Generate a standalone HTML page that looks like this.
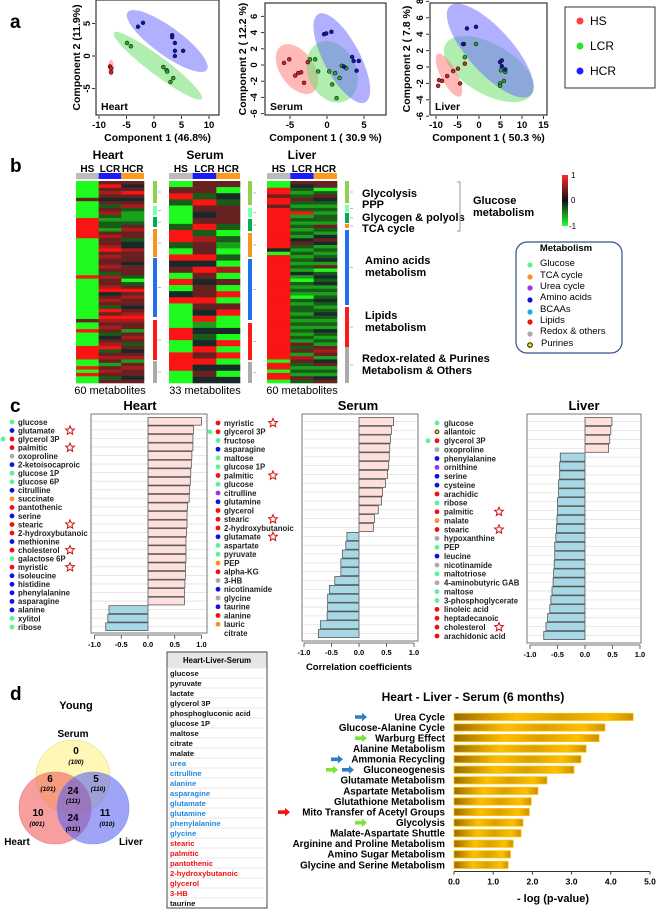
<!DOCTYPE html>
<html><head><meta charset="utf-8">
<style>
html,body{margin:0;padding:0;background:#fff;}
svg{display:block;font-family:"Liberation Sans",Arial,sans-serif;}
.b{font-weight:bold;}
</style></head>
<body>
<svg id="fig" width="659" height="909" viewBox="0 0 659 909" xmlns="http://www.w3.org/2000/svg">
<defs>
<linearGradient id="gold" x1="0" x2="1" y1="0" y2="0">
<stop offset="0" stop-color="#9a6c00"/><stop offset="0.35" stop-color="#ffc000"/><stop offset="0.6" stop-color="#d9a000"/><stop offset="0.85" stop-color="#ffc000"/><stop offset="1" stop-color="#c89000"/>
</linearGradient>
<linearGradient id="cscale" x1="0" x2="0" y1="0" y2="1">
<stop offset="0" stop-color="#ff2a2a"/><stop offset="0.5" stop-color="#111"/><stop offset="1" stop-color="#2aff2a"/>
</linearGradient>
</defs>
<text x="10" y="28" font-size="19" class="b">a</text>
<text x="10" y="172" font-size="19" class="b">b</text>
<text x="10" y="412" font-size="19" class="b">c</text>
<text x="10" y="700" font-size="19" class="b">d</text>

<g>
<rect x="565" y="7" width="90" height="81" fill="#fff" stroke="#333" stroke-width="1"/>
<circle cx="580" cy="21" r="3.5" fill="#ff4040"/><text x="590" y="25" font-size="12">HS</text>
<circle cx="580" cy="46" r="3.5" fill="#30e030"/><text x="590" y="50" font-size="12">LCR</text>
<circle cx="580" cy="71" r="3.5" fill="#2020ff"/><text x="590" y="75" font-size="12">HCR</text>
</g>

<g font-size="12" class="b">
<text x="108" y="159" text-anchor="middle">Heart</text>
<text x="205" y="159" text-anchor="middle">Serum</text>
<text x="302" y="159" text-anchor="middle">Liver</text>
</g>
<g font-size="11" class="b">
<text x="362" y="197">Glycolysis</text>
<text x="362" y="208">PPP</text>
<text x="362" y="221">Glycogen &amp; polyols</text>
<text x="362" y="232">TCA cycle</text>
<text x="365" y="264">Amino acids</text>
<text x="365" y="276">metabolism</text>
<text x="365" y="319">Lipids</text>
<text x="365" y="331">metabolism</text>
<text x="362" y="362">Redox-related &amp; Purines</text>
<text x="362" y="374">Metabolism &amp; Others</text>
<text x="473" y="204">Glucose</text>
<text x="473" y="216">metabolism</text>
</g>
<path d="M457 182 H460 V231 H457" fill="none" stroke="#aaa" stroke-width="1.2"/>
<rect x="562" y="175" width="6" height="51" fill="url(#cscale)"/>
<g font-size="8">
<text x="571" y="178">1</text><text x="571" y="203">0</text><text x="569" y="229">-1</text></g>

<g>
<rect x="516" y="242" width="106" height="111" rx="11" ry="11" fill="#fff" stroke="#34508a" stroke-width="1.2"/>
<text x="566" y="251" font-size="9.5" class="b" text-anchor="middle">Metabolism</text>
<g font-size="9.5">
<circle cx="530" cy="265" r="2.6" fill="#5ef09a"/><text x="540" y="266">Glucose</text>
<circle cx="530" cy="277" r="2.6" fill="#f7931e"/><text x="540" y="278">TCA cycle</text>
<circle cx="530" cy="288" r="2.6" fill="#9933ee"/><text x="540" y="289">Urea cycle</text>
<circle cx="530" cy="300" r="2.6" fill="#1010e8"/><text x="540" y="300">Amino acids</text>
<circle cx="530" cy="312" r="2.6" fill="#19aaf0"/><text x="540" y="312">BCAAs</text>
<circle cx="530" cy="322" r="2.6" fill="#ee1111"/><text x="540" y="323">Lipids</text>
<circle cx="530" cy="334" r="2.6" fill="#aaaaaa"/><text x="540" y="334">Redox &amp; others</text>
<circle cx="530" cy="345" r="2.3" fill="#f5e400" stroke="#111" stroke-width="1"/><text x="541" y="346">Purines</text>
</g></g>
<g font-size="11">
<text x="110" y="394" text-anchor="middle">60 metabolites</text>
<text x="205" y="394" text-anchor="middle">33 metabolites</text>
<text x="302" y="394" text-anchor="middle">60 metabolites</text>
</g>

<g font-size="13" class="b">
<text x="140" y="410" text-anchor="middle">Heart</text>
<text x="358" y="410" text-anchor="middle">Serum</text>
<text x="584" y="410" text-anchor="middle">Liver</text>
</g>
<text x="359" y="670" font-size="9.5" class="b" text-anchor="middle">Correlation coefficients</text>

<g>
<text x="76" y="709" font-size="11" class="b" text-anchor="middle">Young</text>
<circle cx="73" cy="777" r="37" fill="rgba(255,240,120,0.55)" stroke="#e8d890" stroke-width="0.6"/>
<circle cx="55" cy="808" r="36" fill="rgba(240,80,80,0.55)" stroke="#e08080" stroke-width="0.6"/>
<circle cx="93" cy="808" r="36" fill="rgba(80,90,240,0.55)" stroke="#8090f0" stroke-width="0.6"/>
<g font-size="10" class="b" text-anchor="middle">
<text x="73" y="737">Serum</text>
<text x="17" y="845">Heart</text>
<text x="131" y="845">Liver</text>
<text x="76" y="754">0</text><text x="50" y="782">6</text><text x="96" y="782">5</text><text x="73" y="794">24</text>
<text x="38" y="816">10</text><text x="73" y="821">24</text><text x="105" y="816">11</text>
</g>
<g font-size="6.5" class="b" font-style="italic" text-anchor="middle">
<text x="76" y="764">(100)</text><text x="48" y="791">(101)</text><text x="98" y="791">(110)</text><text x="73" y="803">(111)</text>
<text x="37" y="826">(001)</text><text x="73" y="831">(011)</text><text x="107" y="826">(010)</text>
</g></g>

<text x="473" y="701" font-size="12" class="b" text-anchor="middle">Heart - Liver - Serum (6 months)</text>
<text x="553" y="902" font-size="11" class="b" text-anchor="middle">- log (p-value)</text>
</svg>
<script>
const NS='http://www.w3.org/2000/svg';
const svg=document.getElementById('fig');
function mk(tag,attrs,parent){const e=document.createElementNS(NS,tag);for(const k in attrs)e.setAttribute(k,attrs[k]);(parent||svg).appendChild(e);return e;}
function tx(x,y,s,attrs,parent){const e=mk('text',Object.assign({x:x,y:y},attrs||{}),parent);e.textContent=s;return e;}

const heartHS=[[-8.0,-1.6],[-7.8,-1.9],[-7.8,-2.5]];
const heartLCR=[[-4.9,2.0],[-4.2,1.5],[1.7,-1.7],[2.3,-2.2],[2.4,-2.4],[3.5,-3.4],[3.0,-4.0]];
const heartHCR=[[-2.9,4.5],[-2.0,5.1],[3.3,3.2],[3.3,2.9],[3.8,2.0],[3.8,0.8],[5.3,0.8],[3.8,0.0]];
const serumHS=[[-5.8,0.25],[-5.1,0.7],[-4.3,-1.3],[-3.9,-1.0],[-3.5,-0.9],[-3.1,-2.2],[-2.6,0.35]];
const serumLCR=[[-2.3,0.7],[-1.6,0.7],[-1.2,-0.8],[0.3,-0.8],[1.1,-1.0],[1.7,-1.6],[0.7,-2.4],[1.3,-4.1],[2.0,-0.1],[2.6,-0.4]];
const serumHCR=[[-0.4,3.8],[-0.1,3.9],[0.6,4.1],[3.4,1.0],[4.3,0.5],[3.6,0.5],[4.0,-0.7],[2.3,-0.2]];
const liverHS=[[-9.3,-1.6],[-8.6,-1.7],[-9.5,-2.3],[-7.4,-1.1],[-6.0,-0.5],[-4.4,-2.0],[-3.3,0.4],[-4.9,-0.2]];
const liverLCR=[[-3.5,2.8],[-0.7,2.8],[-3.3,1.2],[5.1,-0.4],[6.1,-0.6],[5.8,-1.7],[4.9,-2.0],[4.9,-2.3]];
const liverHCR=[[-2.8,4.7],[-0.7,4.9],[-3.7,2.8],[4.9,0.6],[5.3,0.8],[5.3,0.1],[6.1,-0.3]];
const heartXTicks=[-10,-5,0,5,10], heartYTicks=[-5,0,5];
const serumXTicks=[-5,0,5], serumYTicks=[-6,-4,-2,0,2,4,6];
const liverXTicks=[-10,-5,0,5,10,15], liverYTicks=[-6,-4,-2,0,2,4,6,8];

const pcaPanels=[
 {name:'heart',box:[96,0,219,115],x0:154,sx:5.5,y0:56,sy:6.5,xt:heartXTicks,yt:heartYTicks,xl:'Component 1 (46.8%)',yl:'Component 2 (11.9%)',ylx:80,ytx:90,lab:'Heart',
  ell:[['#ff8080',-7.8,-1.8,3,8,0],['#70e070',0.7,-1.5,55,9,37],['#7070ff',2.4,2.3,49,14,36]],
  pts:[[heartHS,'#e02020'],[heartLCR,'#20b020'],[heartHCR,'#1010c0']]},
 {name:'serum',box:[265,3,386,115],x0:327,sx:7.4,y0:65,sy:8.1,xt:serumXTicks,yt:serumYTicks,xl:'Component 1 ( 30.9 %)',yl:'Component 2 ( 12.2 %)',ylx:246,ytx:257,lab:'Serum',
  ell:[['#ff8080',-4.05,-0.5,28,17,55],['#70e070',0.7,-0.85,32,24,65],['#7070ff',2.0,0.85,50,18,62]],
  pts:[[serumHS,'#e02020'],[serumLCR,'#20b020'],[serumHCR,'#1010c0']]},
 {name:'liver',box:[430,3,547,115],x0:479,sx:4.3,y0:67,sy:8.2,xt:liverXTicks,yt:liverYTicks,xl:'Component 1 ( 50.3 %)',yl:'Component 2 ( 7.8 %)',ylx:410,ytx:423,lab:'Liver',
  ell:[['#70e070',2.3,-0.25,50,25,30],['#7070ff',2.6,2.0,60,22,48],['#ff8080',-7.0,-1.0,24,8,62]],
  pts:[[liverHS,'#e02020'],[liverLCR,'#20b020'],[liverHCR,'#1010c0']]}
];
pcaPanels.forEach(function(p){
  const g=mk('g',{});
  
  
  const X=function(v){return p.x0+v*p.sx;}, Y=function(v){return p.y0-v*p.sy;};
  const cp=mk('clipPath',{id:'clip-'+p.name},g);
  mk('rect',{x:p.box[0],y:p.box[1],width:p.box[2]-p.box[0],height:p.box[3]-p.box[1]},cp);
  const inner=mk('g',{'clip-path':'url(#clip-'+p.name+')'},g);
  p.ell.forEach(function(e){
    const el=mk('ellipse',{cx:X(e[1]),cy:Y(e[2]),rx:e[3],ry:e[4],transform:'rotate('+e[5]+' '+X(e[1])+' '+Y(e[2])+')',fill:e[0],'fill-opacity':0.55},inner);
    
    
  });
  p.pts.forEach(function(s){
    s[0].forEach(function(pt){
      const c=mk('circle',{cx:X(pt[0]),cy:Y(pt[1]),r:1.9,fill:s[1],stroke:'#111','stroke-width':0.6},inner);
      
      
    });
  });
  mk('rect',{x:p.box[0],y:p.box[1],width:p.box[2]-p.box[0],height:p.box[3]-p.box[1],fill:'none',stroke:'#333','stroke-width':1.2},g);
  p.xt.forEach(function(t){
    mk('line',{x1:X(t),x2:X(t),y1:p.box[3]+1,y2:p.box[3]+4,stroke:'#333'},g);
    const l=tx(X(t),p.box[3]+13,String(t),{'font-size':9.5,'font-weight':'bold','text-anchor':'middle'},g);
    
    
  });
  p.yt.forEach(function(t){
    if(Y(t)<p.box[1]-2)return;
    mk('line',{x1:p.box[0]-4,x2:p.box[0]-1,y1:Y(t),y2:Y(t),stroke:'#333'},g);
    const l=tx(p.ytx,Y(t),String(t),{'font-size':9.5,'font-weight':'bold','text-anchor':'middle',transform:'rotate(-90 '+p.ytx+' '+Y(t)+')'},g);
    
    
  });
  const xt=tx((p.box[0]+p.box[2])/2,p.box[3]+26,p.xl,{'font-size':10.5,'font-weight':'bold','text-anchor':'middle'},g);
  
  
  const cy=(p.box[1]+p.box[3])/2;
  const yt=tx(p.ylx,cy,p.yl,{'font-size':10.5,'font-weight':'bold','text-anchor':'middle',transform:'rotate(-90 '+p.ylx+' '+cy+')'},g);
  
  
  const pl=tx(p.box[0]+5,p.box[3]-5,p.lab,{'font-size':10.5,'font-weight':'bold'},g);
  
  
});

const heartHSCol ="GGGGGmGGGGGRRRRRRGGGGGGGGGGGRGGGGGGGGGGGGmGGRGGGGRRRRGGRGRGG";
const heartLCRCol="mRmrmkmdmrdgddgmrmmrRmrmmrmdrmmrRkmrmdRmRrmrmdkmrRdmrmgmrmdm";
const heartHCRCol="mkmRmkmrdgggdmrmmdkkrmmmkmmmdGdmRmrmmkmrRrmmgmrmdmkmrgmrmmkm";
const serumHSCol ="GmRdGGGdRRdGRkmGRGkRGGGGRRGGRRRGG";
const serumLCRCol="mmdRmkmRdrmmRkRmkmmRmkRgkdkRmRkmk";
const serumHCRCol="mGkdmmmdGdgGdGrGmGRGmRGGkGRGRGkGk";
const liverHSCol ="GGRRmRRmRRRRRRRRRRRRkGRRRRRRRRRRRRRRRRRRRRRRRRRRRRRRRGRRGRRG";
const liverLCRCol="mkdgdmdgdRgdgdgdgkmdgdgdgdgkgGdgdgGdgddgdgdgdgdgmdmgrmdgdgmd";
const liverHCRCol="mmGdmkdgdgddgmdgkmkgdgdkgmGdkdkgdgdkdgdkdgdgkdgdgmrmgkmgdgkm";
const levelValues={G:-1,g:-0.6,d:-0.3,k:0,m:0.35,r:0.65,R:1};
const groupLabels=['HS','LCR','HCR'];
function heatColor(v){
  if(v>=0){return 'rgb('+Math.round(25+225*v)+','+Math.round(20*(1-v)+20)+','+Math.round(20*(1-v)+20)+')';}
  const a=-v;return 'rgb('+Math.round(20+10*a)+','+Math.round(25+225*a)+','+Math.round(20+10*a)+')';
}
const heatmaps=[
 {name:'heart',x:76,w:68,cols:[heartHSCol,heartLCRCol,heartHCRCol],side:153,
  segs:[[181,203,'#8fd14f'],[206,215,'#7dffb0'],[217,227,'#00b050'],[229,257,'#f7931e'],[258,317,'#1f6fef'],[320,360,'#ff1a1a'],[361,383,'#aaaaaa']]},
 {name:'serum',x:169,w:71,cols:[serumHSCol,serumLCRCol,serumHCRCol],side:248,
  segs:[[181,205,'#8fd14f'],[208,217,'#7dffb0'],[219,231,'#00b050'],[233,257,'#f7931e'],[259,320,'#1f6fef'],[323,360,'#ff1a1a'],[362,383,'#aaaaaa']]},
 {name:'liver',x:267,w:70,cols:[liverHSCol,liverLCRCol,liverHCRCol],side:345,
  segs:[[181,203,'#8fd14f'],[205,212,'#7dffb0'],[213,223,'#00b050'],[224,228,'#f7931e'],[230,305,'#1f6fef'],[307,347,'#ff1a1a'],[347,383,'#aaaaaa']]}
];
const stripColors=['#bbbbbb','#1a1aff','#ff9a1a'];
heatmaps.forEach(function(h){
  const g=mk('g',{});
  
  
  const cw=h.w/3, top=181, H=202;
  h.cols.forEach(function(col,ci){
    const lab=tx(h.x+cw*ci+cw/2,172,groupLabels[ci],{'font-size':10,'font-weight':'bold','text-anchor':'middle'},g);
    
    
    mk('rect',{x:h.x+cw*ci,y:173,width:cw,height:6,fill:stripColors[ci]},g);
    const n=col.length, rh=H/n;
    for(let i=0;i<n;i++){
      const r=mk('rect',{x:h.x+cw*ci,y:top+i*rh,width:cw+0.3,height:rh+0.3,fill:heatColor(levelValues[col[i]])},g);
      
      
    }
  });
  h.segs.forEach(function(s){
    const r=mk('rect',{x:h.side,y:s[0],width:4,height:s[1]-s[0],fill:s[2]},g);
    
    
    mk('line',{x1:h.side+5,x2:h.side+8,y1:(s[0]+s[1])/2,y2:(s[0]+s[1])/2,stroke:'#aaa','stroke-width':0.8},g);
  });
});

const heartCorr=[1.0,0.85,0.84,0.84,0.82,0.81,0.80,0.79,0.78,0.77,0.74,0.73,0.73,0.72,0.71,0.71,0.71,0.70,0.70,0.69,0.68,0.68,-0.73,-0.75,-0.79];
const serumCorr=[0.63,0.59,0.57,0.56,0.55,0.54,0.52,0.48,0.43,0.41,0.35,0.28,0.26,-0.22,-0.24,-0.30,-0.33,-0.33,-0.44,-0.54,-0.57,-0.57,-0.58,-0.70,-0.74];
const liverCorr=[0.49,0.47,0.45,0.43,-0.45,-0.46,-0.46,-0.48,-0.48,-0.50,-0.50,-0.51,-0.52,-0.53,-0.55,-0.55,-0.56,-0.57,-0.58,-0.60,-0.62,-0.64,-0.68,-0.71,-0.75];
const corrTicks=[-1.0,-0.5,0.0,0.5,1.0];
const corrPanels=[
 {name:'heart',vals:heartCorr,box:[91,414,207,633],zero:148,unit:53.5,top:417,bot:631},
 {name:'serum',vals:serumCorr,box:[302,414,418,641],zero:359,unit:55,top:417,bot:638},
 {name:'liver',vals:liverCorr,box:[527,414,641,643],zero:585,unit:55,top:417,bot:640}
];
corrPanels.forEach(function(p){
  const g=mk('g',{});
  
  
  const n=p.vals.length, pitch=(p.bot-p.top)/n;
  const X=function(v){return p.zero+v*p.unit;};
  for(let i=0;i<n;i++){
    const cy=p.top+pitch*(i+0.5);
    mk('line',{x1:p.box[0],x2:p.box[2],y1:cy,y2:cy,stroke:'#e2e2e2','stroke-width':0.8},g);
  }
  p.vals.forEach(function(v,i){
    const y=p.top+pitch*i+0.4;
    const x0=Math.min(X(0),X(v));
    const r=mk('rect',{x:x0,y:y,width:Math.abs(X(v)-X(0)),height:pitch-0.8,fill:v>=0?'#fde0dc':'#a8d8e6',stroke:'#444','stroke-width':0.7},g);
    
    
  });
  mk('rect',{x:p.box[0],y:p.box[1],width:p.box[2]-p.box[0],height:p.box[3]-p.box[1],fill:'none',stroke:'#777','stroke-width':1},g);
  corrTicks.forEach(function(t){
    mk('line',{x1:X(t),x2:X(t),y1:p.box[3]+2,y2:p.box[3]+6,stroke:'#444','stroke-width':0.8},g);
    const l=tx(X(t),p.box[3]+14,t.toFixed(1),{'font-size':7.5,'font-weight':'bold','text-anchor':'middle'},g);
    
    
  });
  mk('line',{x1:X(-1),x2:X(1),y1:p.box[3]+2,y2:p.box[3]+2,stroke:'#444','stroke-width':0.8},g);
});

const C={G:'#5ef09a',B:'#1010e8',R:'#ee1111',Y:'#aaaaaa',O:'#f7931e',P:'#9933ee',U:'purine',N:'none'};
const heartLeftNames=['glucose','glutamate','glycerol 3P','palmitic','oxoproline','2-ketoisocaproic','glucose 1P','glucose 6P','citrulline','succinate','pantothenic','serine','stearic','2-hydroxybutanoic','methionine','cholesterol','galactose 6P','myristic','isoleucine','histidine','phenylalanine','asparagine','alanine','xylitol','ribose'];
const heartLeftCats='GBRRYBGGBORBRRBRGRBBBBBGG';
const heartLeftStars=[1,3,12,15,17];
const heartRightNames=['myristic','glycerol 3P','fructose','asparagine','maltose','glucose 1P','palmitic','glucose','citrulline','glutamine','glycerol','stearic','2-hydroxybutanoic','glutamate','aspartate','pyruvate','PEP','alpha-KG','3-HB','nicotinamide','glycine','taurine','alanine','lauric','citrate'];
const heartRightCats='RRGBGGRGPBRRRBGGORYBYBRON';
const heartRightStars=[0,6,11,13];
const liverNames=['glucose','allantoic','glycerol 3P','oxoproline','phenylalanine','ornithine','serine','cysteine','arachidic','ribose','palmitic','malate','stearic','hypoxanthine','PEP','leucine','nicotinamide','maltotriose','4-aminobutyric GAB','maltose','3-phosphoglycerate','linoleic acid','heptadecanoic','cholesterol','arachidonic acid'];
const liverCats='GURYBPBBRGRORYGBYGYGGRRRR';
const liverStars=[10,12,23];
function starPath(cx,cy,R){let d='';for(let i=0;i<10;i++){const r=i%2?R*0.45:R;const a=-Math.PI/2+i*Math.PI/5;d+=(i?'L':'M')+(cx+r*Math.cos(a)).toFixed(2)+' '+(cy+r*Math.sin(a)).toFixed(2);}return d+'Z';}
const labelLists=[
 {name:'heart-left',names:heartLeftNames,cats:heartLeftCats,stars:heartLeftStars,dx:12,tx:18,sx:70,dd:3,y0:422,y1:627},
 {name:'heart-right',names:heartRightNames,cats:heartRightCats,stars:heartRightStars,dx:218,tx:224,sx:273,dd:210,y0:423,y1:633},
 {name:'liver',names:liverNames,cats:liverCats,stars:liverStars,dx:437,tx:444,sx:499,dd:428,y0:423,y1:636}
];
labelLists.forEach(function(L){
  const g=mk('g',{});
  
  
  const n=L.names.length, pitch=(L.y1-L.y0)/(n-1);
  L.names.forEach(function(nm,i){
    const y=L.y0+pitch*i;
    const c=C[L.cats[i]];
    if(c==='purine'){mk('circle',{cx:L.dx,cy:y,r:1.9,fill:'#f5e400',stroke:'#111','stroke-width':0.9},g);}
    else if(c!=='none'){mk('circle',{cx:L.dx,cy:y,r:2.4,fill:c},g);}
    if(nm==='glycerol 3P'){mk('circle',{cx:L.dd,cy:y,r:2.4,fill:C.G},g);}
    const t=tx(L.tx,y+2.8,nm,{'font-size':7.8,'font-weight':'bold','fill':'#222'},g);
    
    
    if(L.stars.indexOf(i)>=0){
      const s=mk('path',{d:starPath(L.sx,y,4.6),fill:'none',stroke:'#cc1111','stroke-width':1},g);
      
      
    }
  });
});

const tableItems=['glucose','pyruvate','lactate','glycerol 3P','phosphogluconic acid','glucose 1P','maltose','citrate','malate','urea','citrulline','alanine','asparagine','glutamate','glutamine','phenylalanine','glycine','stearic','palmitic','pantothenic','2-hydroxybutanoic','glycerol','3-HB','taurine'];
const tableCats='KKKKKKKKKBBBBBBBBRRRRRRK';
(function(){
  const g=mk('g',{});
  
  
  mk('rect',{x:167,y:652,width:100,height:256,fill:'#fff',stroke:'#444','stroke-width':1},g);
  mk('rect',{x:167.5,y:652.5,width:99,height:15,fill:'#e6e6e6'},g);
  const h=tx(217,663,'Heart-Liver-Serum',{'font-size':7.8,'font-weight':'bold','text-anchor':'middle'},g);
  
  
  const col={K:'#111',B:'#2288dd',R:'#ee1111'};
  tableItems.forEach(function(nm,i){
    const y=673+i*10;
    mk('line',{x1:167,x2:267,y1:y-5,y2:y-5,stroke:'#cfcfcf','stroke-width':0.6},g);
    const t=tx(170,y+3,nm,{'font-size':7.6,'font-weight':'bold',fill:col[tableCats[i]]},g);
    
    
  });
})();

const pathwayNames=['Urea Cycle','Glucose-Alanine Cycle','Warburg Effect','Alanine Metabolism','Ammonia Recycling','Gluconeogenesis','Glutamate Metabolism','Aspartate Metabolism','Glutathione Metabolism','Mito Transfer of Acetyl Groups','Glycolysis','Malate-Aspartate Shuttle','Arginine and Proline Metabolism','Amino Sugar Metabolism','Glycine and Serine Metabolism'];
const pathwayValues=[4.57,3.85,3.70,3.37,3.24,3.06,2.37,2.14,1.97,1.92,1.76,1.71,1.51,1.44,1.38];
const pathwayTicks=[0,1,2,3,4,5];
const pathwayArrows=[[0,'#2a7fc8',355],[2,'#7be43a',355],[4,'#2a7fc8',331],[5,'#2a7fc8',342],[5,'#7be43a',326],[9,'#ee1111',278],[10,'#7be43a',355]];
(function(){
  const g=mk('g',{});
  
  
  const X0=454, U=39.2, top=712, pitch=10.57;
  const X=function(v){return X0+v*U;};
  pathwayValues.forEach(function(v,i){
    const y=top+i*pitch;
    const r=mk('rect',{x:X(0),y:y+1.3,width:X(v)-X(0),height:7.2,fill:'url(#gold)',stroke:'#ffc000','stroke-width':0.8},g);
    
    
    const t=tx(445,y+8.3,pathwayNames[i],{'font-size':9.8,'font-weight':'bold','text-anchor':'end'},g);
    
    
  });
  pathwayArrows.forEach(function(a){
    const y=top+a[0]*pitch+5, x=a[2];
    const p=mk('path',{d:'M'+x+' '+(y-1.8)+' h7 v-2.4 l5 4.2 l-5 4.2 v-2.4 h-7 z',fill:a[1]},g);
    
    
  });
  const ay=top+pathwayValues.length*pitch+1;
  mk('line',{x1:X(0),x2:X(5),y1:ay,y2:ay,stroke:'#333','stroke-width':1},g);
  pathwayTicks.forEach(function(t){
    mk('line',{x1:X(t),x2:X(t),y1:ay,y2:ay+3,stroke:'#333','stroke-width':1},g);
    const l=tx(X(t),ay+13,t.toFixed(1),{'font-size':8.5,'font-weight':'bold','text-anchor':'middle'},g);
    
    
  });
})();
</script>
</body></html>
